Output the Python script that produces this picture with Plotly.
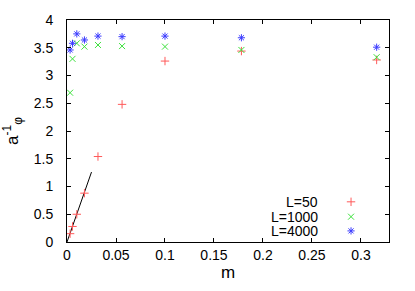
import plotly.graph_objects as go

m = [0.00316, 0.00562, 0.01, 0.0178, 0.0316, 0.0562, 0.1, 0.178, 0.316]
L50 = [0.15, 0.28, 0.50, 0.88, 1.54, 2.48, 3.26, 3.44, 3.28]
L1000 = [2.69, 3.30, 3.58, 3.52, 3.55, 3.53, 3.52, 3.46, 3.33]
L4000 = [3.46, 3.58, 3.75, 3.64, 3.71, 3.70, 3.71, 3.68, 3.51]
fit_m = [0.0, 0.025]
fit_y = [0.0, 1.26]

names = ["L=50", "L=1000", "L=4000"]
colors = ["rgb(255,90,90)", "rgb(60,225,60)", "rgb(60,60,255)"]
symbols = ["cross-thin-open", "x-thin-open", "asterisk-open"]
legend_ids = ["legend", "legend2", "legend3"]
legend_rows_y = [0.181, 0.114, 0.050]

fig = go.Figure()
fig.add_trace(go.Scatter(x=fit_m, y=fit_y, mode="lines",
                         line=dict(color="black", width=1), showlegend=False))
for ys, nm, c, s, lg in zip([L50, L1000, L4000], names, colors, symbols, legend_ids):
    fig.add_trace(go.Scatter(x=m, y=ys, mode="markers", name=" ", legend=lg,
                             marker=dict(symbol=s, size=6, color=c,
                                         line=dict(color=c, width=1))))

for nm, yy in zip(names, legend_rows_y):
    fig.add_annotation(text=nm, xref="paper", yref="paper", x=0.787, y=yy,
                       xanchor="right", yanchor="middle", showarrow=False,
                       font=dict(size=14))

legend_common = dict(xanchor="left", yanchor="middle", font=dict(size=8),
                     bgcolor="rgba(0,0,0,0)", itemwidth=30)
legends = {lg: dict(x=0.82, y=yy, **legend_common)
           for lg, yy in zip(legend_ids, legend_rows_y)}

font = dict(family="Liberation Sans, Arial, sans-serif", size=14, color="black")
fig.update_layout(
    width=415, height=291,
    margin=dict(l=67, r=26, t=17, b=45),
    paper_bgcolor="white", plot_bgcolor="white",
    font=font,
    showlegend=True,
    **legends,
    xaxis=dict(range=[0, 0.3286], tickvals=[0, 0.05, 0.1, 0.15, 0.2, 0.25, 0.3],
               ticktext=["0", "0.05", "0.1", "0.15", "0.2", "0.25", "0.3"],
               ticks="inside", ticklen=4, tickcolor="black", mirror="allticks",
               showline=True, linecolor="black", linewidth=1, showgrid=False,
               zeroline=False, title=dict(text="m", standoff=4)),
    yaxis=dict(range=[0, 4], tickvals=[0, 0.5, 1, 1.5, 2, 2.5, 3, 3.5, 4],
               ticktext=["0", "0.5", "1", "1.5", "2", "2.5", "3", "3.5", "4"],
               ticks="inside", ticklen=4, tickcolor="black", mirror="allticks",
               showline=True, linecolor="black", linewidth=1, showgrid=False,
               zeroline=False, ticklabelstandoff=10,
               title=dict(text="a<sup>-1</sup><sub>φ</sub>", standoff=10)),
)
fig.write_html("out.html", config={"displayModeBar": False},
               post_script="document.body.style.margin='0';")
